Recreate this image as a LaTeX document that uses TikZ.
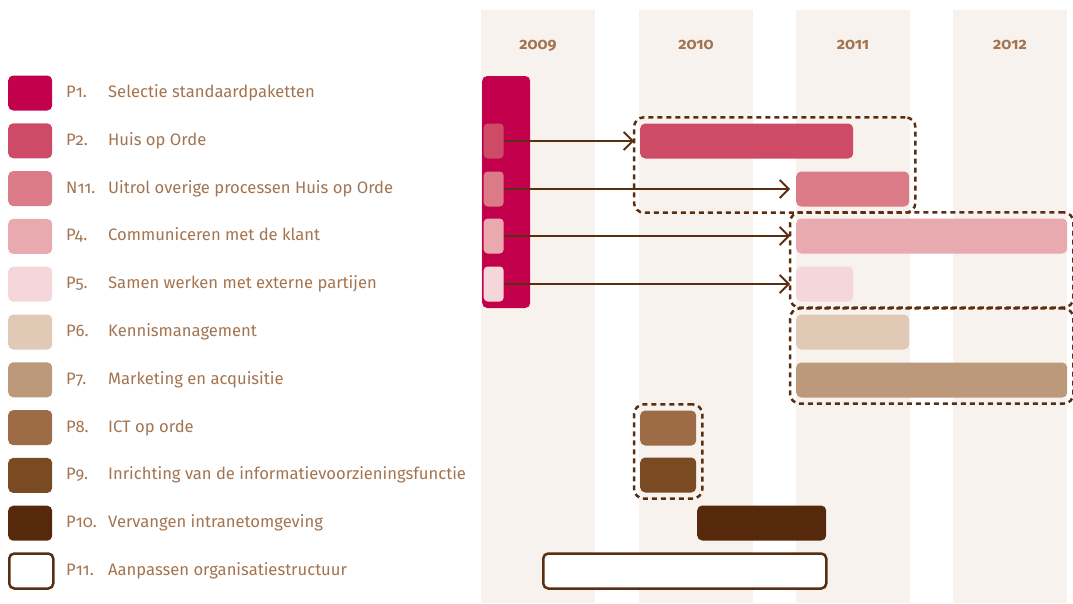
\documentclass[tikz,border=0pt]{standalone}
\usepackage{fontspec}
\setmainfont{Fira Sans}[Numbers=OldStyle]
\usetikzlibrary{positioning,fit,arrows.meta}

\definecolor{txtbrown}{HTML}{A3744F}
\definecolor{linebrown}{HTML}{5A2E10}
\definecolor{colbg}{HTML}{F7F2EE}
\definecolor{cP1}{HTML}{C3004B}
\definecolor{cP2}{HTML}{CE4B68}
\definecolor{cN11}{HTML}{DA7B87}
\definecolor{cP4}{HTML}{E8A9AF}
\definecolor{cP5}{HTML}{F5D6DA}
\definecolor{cP6}{HTML}{E0CAB6}
\definecolor{cP7}{HTML}{BD997B}
\definecolor{cP8}{HTML}{9D6C46}
\definecolor{cP9}{HTML}{7A4A23}
\definecolor{cP10}{HTML}{56290D}

\begin{document}
\begin{tikzpicture}[x=1pt, y=-1pt,
    bar/.style={rectangle, rounded corners=5pt, minimum height=35pt,
                inner sep=0pt, anchor=west},
    key/.style={bar, minimum width=44pt},
    outlined/.style={fill=white, draw=linebrown, line width=2.5pt},
    group/.style={draw=linebrown, line width=2.5pt, dash pattern=on 5pt off 4pt,
                  rounded corners=10pt, inner sep=6pt},
    link/.style={-{Straight Barb[length=9pt,width=18pt]}, draw=linebrown,
                 line width=1.8pt, shorten >=6pt},
    year/.style={font=\bfseries\fontsize{16}{19}\selectfont, text=txtbrown, anchor=base},
    keytext/.style={font=\fontsize{16.6}{20}\selectfont, text=txtbrown,
                    anchor=base west, inner sep=0pt}]

  \useasboundingbox (0,0) rectangle (1073,603);

  % year columns
  \foreach \x/\yr in {481/2009, 639/2010, 796/2011, 953/2012} {
    \fill[colbg] (\x,10) rectangle +(114,593);
    \node[year] (y\yr) at (\x+57,49) {\yr};
  }

  % legend
  \foreach \nr/\c/\txt [count=\i] in {P1./cP1/Selectie standaardpaketten,
      P2./cP2/Huis op Orde, N11./cN11/Uitrol overige processen Huis op Orde,
      P4./cP4/Communiceren met de klant, P5./cP5/Samen werken met externe partijen,
      P6./cP6/Kennismanagement, P7./cP7/Marketing en acquisitie,
      P8./cP8/ICT op orde, P9./cP9/Inrichting van de informatievoorzieningsfunctie,
      P10./cP10/Vervangen intranetomgeving} {
    \pgfmathsetmacro{\y}{93+47.8*(\i-1)}
    \node[key, fill=\c] (k\i) at (8,\y) {};
    \node[keytext] (n\i) at (66,\y+4.5) {\nr};
    \node[keytext] (t\i) at (108,\y+4.5) {\txt};
  }
  \node[key, outlined] (k11) at (8,571) {};
  \node[keytext] (n11) at (66,575.5) {P11.};
  \node[keytext] (t11) at (108,575.5) {Aanpassen organisatiestructuur};

  % bars
  \node[bar, fill=cP1, minimum width=48pt, minimum height=232pt] (p1) at (482,192) {};
  \node[bar, fill=cP2, rounded corners=4pt, minimum width=20pt] (s2) at (483.5,141) {};
  \node[bar, fill=cN11, rounded corners=4pt, minimum width=20pt] (s3) at (483.5,189) {};
  \node[bar, fill=cP4, rounded corners=4pt, minimum width=20pt] (s4) at (483.5,236) {};
  \node[bar, fill=cP5, rounded corners=4pt, minimum width=20pt] (s5) at (483.5,284) {};

  \node[bar, fill=cP2, minimum width=213pt] (p2) at (640,141) {};
  \node[bar, fill=cN11, minimum width=113pt] (pn11) at (796,189) {};
  \node[bar, fill=cP4, minimum width=271pt] (p4) at (796,236) {};
  \node[bar, fill=cP5, minimum width=57pt] (p5) at (796,284) {};
  \node[bar, fill=cP6, minimum width=113pt] (p6) at (796,332) {};
  \node[bar, fill=cP7, minimum width=271pt] (p7) at (796,380) {};
  \node[bar, fill=cP8, minimum width=56pt] (p8) at (640,428) {};
  \node[bar, fill=cP9, minimum width=56pt] (p9) at (640,475) {};
  \node[bar, fill=cP10, minimum width=129pt] (p10) at (697,523) {};
  \node[bar, outlined, minimum width=283pt] (p11) at (542,571) {};

  % dashed groups
  \node[group, fit=(p2)(pn11)] (ga) {};
  \node[group, fit=(p4)(p5)] (gb) {};
  \node[group, fit=(p6)(p7)] (gc) {};
  \node[group, fit=(p8)(p9)] (gd) {};

  % arrows
  \draw[link] (s2) -- (p2);
  \draw[link] (s3) -- (pn11);
  \draw[link] (s4) -- (p4);
  \draw[link] (s5) -- (p5);
\end{tikzpicture}
\end{document}
